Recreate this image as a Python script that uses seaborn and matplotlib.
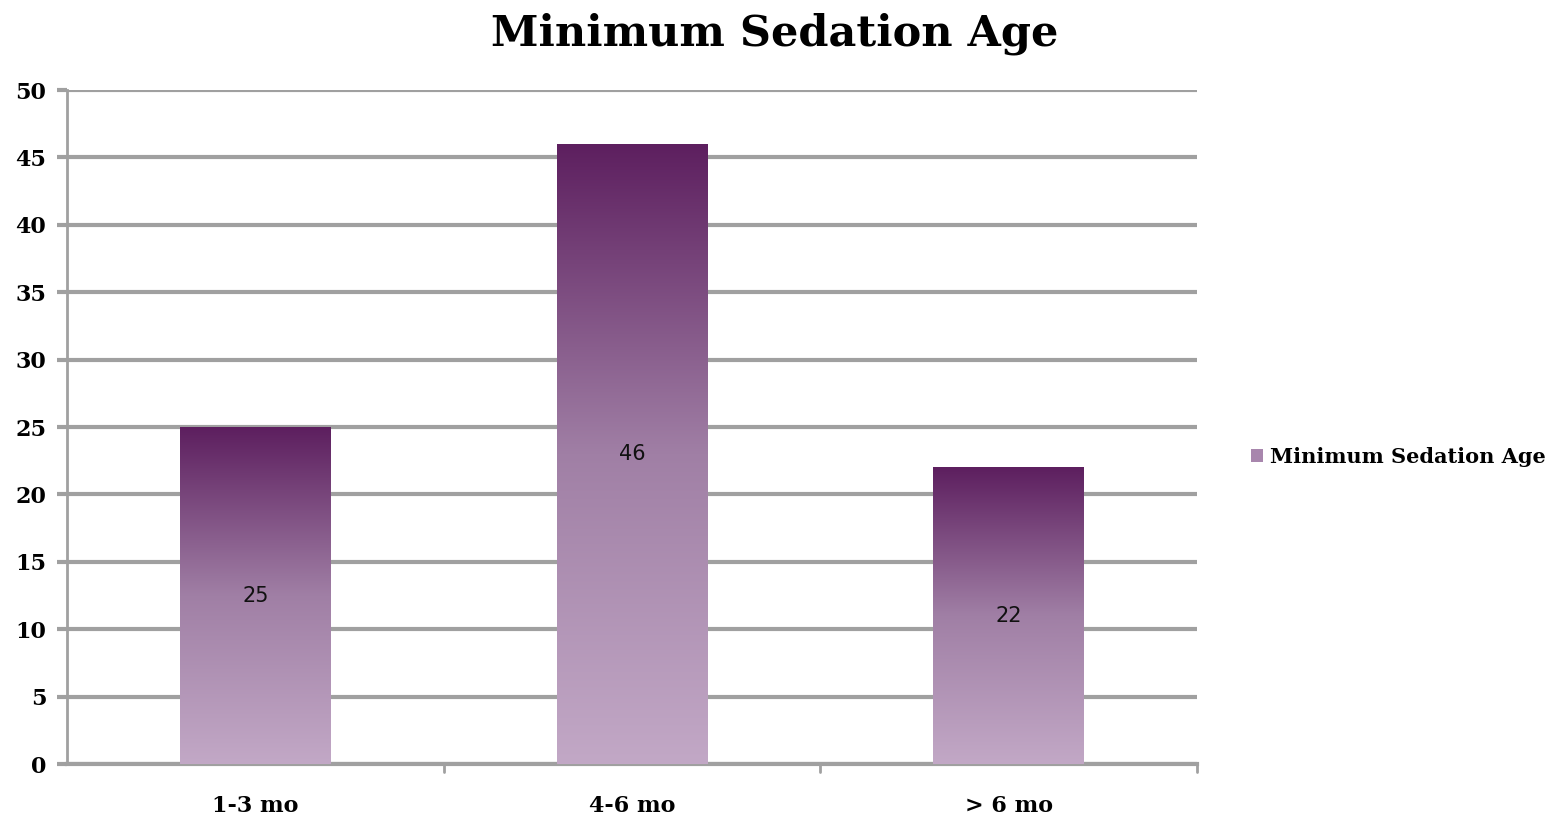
import numpy as np
import pandas as pd
import seaborn as sns
import matplotlib.pyplot as plt
from matplotlib.colors import LinearSegmentedColormap
from matplotlib.patches import Patch

categories = ["1-3 mo", "4-6 mo", "> 6 mo"]
counts = [25, 46, 22]
series_name = "Minimum Sedation Age"
y_ticks = list(range(0, 51, 5))

df = pd.DataFrame({"age": categories, "count": counts})

sns.set_style("white")
plt.rcParams['font.family'] = ['DejaVu Serif', 'DejaVu Sans']
plt.rcParams['text.color'] = 'black'
plt.rcParams['xtick.color'] = 'black'
plt.rcParams['ytick.color'] = 'black'

fig = plt.figure(figsize=(15.49, 8.21), dpi=100)
ax = fig.add_axes([67 / 1549, 1 - 764 / 821, (1197 - 67) / 1549, (764 - 90) / 821])

sns.barplot(data=df, x="age", y="count", ax=ax, width=0.40, color="#7a4a7c")

# gradient fill: dark purple at the top, pale lilac at the bottom
cmap = LinearSegmentedColormap.from_list("purp", ["#c2a8c6", "#a07fa5", "#5d1f5f"])
grad = np.linspace(0, 1, 256).reshape(-1, 1)
for bar in ax.patches:
    x0, y0 = bar.get_x(), bar.get_y()
    w, h = bar.get_width(), bar.get_height()
    im = ax.imshow(grad, cmap=cmap, origin="lower", aspect="auto",
                   extent=[x0, x0 + w, y0, y0 + h], zorder=3)
    im.set_clip_path(bar)
    bar.set_facecolor("none")
    bar.set_edgecolor("none")
    ax.text(x0 + w / 2, y0 + h / 2, str(int(h)), ha="center", va="center",
            fontsize=15, family="DejaVu Sans", color="#111111", zorder=4)

ax.set_xlim(-0.5, 2.5)
ax.set_ylim(0, 50)
ax.set_yticks(y_ticks)
ax.set_yticklabels([str(t) for t in y_ticks], fontsize=16, fontweight="bold")
ax.set_xticks([0, 1, 2])
ax.set_xticklabels(categories, fontsize=16, fontweight="bold")
ax.tick_params(axis="x", length=0, pad=22, colors="black")
ax.tick_params(axis="y", left=True, length=7, width=3, color="#a0a0a0", labelcolor="black", pad=8)
# boundary ticks under the x axis
for b in [0.5, 1.5, 2.5]:
    ax.plot([b, b], [0, -0.6], color="#a0a0a0", lw=2, clip_on=False, zorder=5)

ax.set_xlabel("")
ax.set_ylabel("")
ax.grid(axis="y", color="#a0a0a0", lw=3)
ax.set_axisbelow(True)
for s in ["top", "right"]:
    ax.spines[s].set_visible(False)
ax.spines["left"].set_color("#a0a0a0")
ax.spines["left"].set_linewidth(2)
ax.spines["bottom"].set_color("#a0a0a0")
ax.spines["bottom"].set_linewidth(3)

fig.suptitle("Minimum Sedation Age", x=0.5, y=0.985, fontsize=31, fontweight="heavy", color="black")

handle = Patch(facecolor="#a886ad", edgecolor="none")
fig.legend([handle], [series_name], loc="center left", bbox_to_anchor=(1232 / 1549, 1 - 457 / 821),
           frameon=False, prop={"weight": "bold", "size": 15},
           handlelength=0.6, handleheight=0.6, handletextpad=0.3, labelcolor="black")

fig.savefig("out.png", dpi=100)
